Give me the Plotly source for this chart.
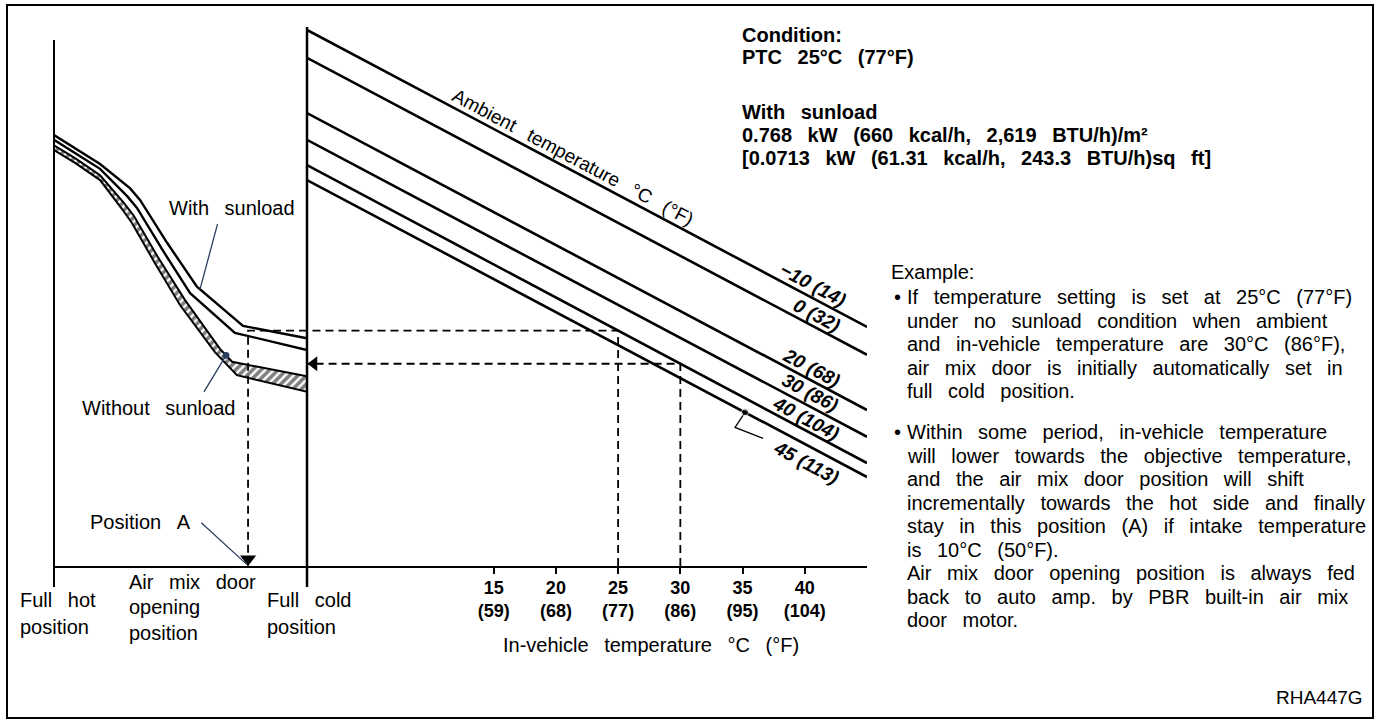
import math
import numpy as np
import plotly.graph_objects as go

W, H = 1377, 724
FONT = "Liberation Sans, Arial, Helvetica, sans-serif"

# ------------------------------------------------------------------ data
# Right panel: ambient-temperature lines (control level vs in-vehicle temperature)
ambient_temp_c = [-10, 0, 20, 30, 40, 45]
ambient_labels = ["−10 (14)", "0 (32)", "20 (68)", "30 (86)", "40 (104)", "45 (113)"]
in_vehicle_span_c = [0, 45]
level_at_span_start = [100.0, 94.8, 84.5, 79.5, 74.8, 72.0]
level_at_span_end = [44.6, 39.4, 29.1, 24.1, 19.2, 16.6]

in_vehicle_ticks_c = [15, 20, 25, 30, 35, 40]
in_vehicle_ticks_f = [59, 68, 77, 86, 95, 104]

# Left panel: air mix door opening (% from full hot) vs control level
door_pos_sun_upper = [0, 8.3, 18.2, 30.0, 34.0, 44.7, 56.5, 74.7, 100]
level_sun_upper = [80.4, 78.0, 75.0, 70.5, 68.3, 60.3, 52.1, 44.8, 42.5]
door_pos_sun_lower = [0, 8.3, 18.2, 28.9, 32.8, 42.7, 53.8, 71.5, 100]
level_sun_lower = [79.5, 77.1, 74.1, 69.0, 66.8, 59.1, 50.9, 43.5, 40.3]
door_pos_nosun_upper = [0, 8.3, 18.2, 27.7, 31.6, 41.1, 51.8, 65.6, 70.4, 100]
level_nosun_upper = [78.5, 76.1, 72.9, 67.7, 65.3, 57.6, 49.6, 40.5, 38.1, 35.4]
door_pos_nosun_lower = [0, 8.3, 18.2, 26.9, 30.8, 39.9, 49.8, 63.6, 72.3, 100]
level_nosun_lower = [77.6, 75.2, 72.0, 66.6, 64.0, 56.5, 48.7, 39.9, 35.6, 32.5]

# Worked example
example_ambient_c = 40
example_in_vehicle_c = [25, 30]
position_a_pct = 76.7
sun_leader_pct = 57.7
nosun_leader_pct = 68.0
label_45_leader_c = 35.2

# ------------------------------------------------------------------ geometry
X_HOT, X_COLD, X_RIGHT = 54, 307, 867
Y_BASE, Y_TOP = 566, 30
PX_PER_LEVEL = (Y_BASE - Y_TOP) / 100.0
LEVEL_MAX = Y_BASE / PX_PER_LEVEL
PX_PER_C = (X_RIGHT - X_COLD) / 45.0


def PX(x):
    return x / W


def PY(y):
    return 1 - y / H


def wide(s):
    return s.replace(" ", " \u2002")


def font(size=20, bold=False, italic=False):
    return dict(family=FONT, size=size, color="black",
                weight="bold" if bold else "normal",
                style="italic" if italic else "normal")


def amb_level(i, t):
    return float(np.interp(t, in_vehicle_span_c, [level_at_span_start[i], level_at_span_end[i]]))


fig = go.Figure()

# ambient lines
for i in range(len(ambient_temp_c)):
    fig.add_trace(go.Scatter(x=in_vehicle_span_c, y=[level_at_span_start[i], level_at_span_end[i]],
                             xaxis="x2", yaxis="y", mode="lines",
                             line=dict(color="black", width=2.6), hoverinfo="skip"))

# without sunload hatched band
fig.add_trace(go.Scatter(
    x=door_pos_nosun_upper + door_pos_nosun_lower[::-1],
    y=level_nosun_upper + level_nosun_lower[::-1],
    xaxis="x", yaxis="y", mode="lines", fill="toself", fillcolor="white",
    fillpattern=dict(shape="/", fgcolor="black", bgcolor="white", size=6, solidity=0.6),
    line=dict(color="black", width=2), hoverinfo="skip"))

# with sunload band
for xs, ys in [(door_pos_sun_upper, level_sun_upper), (door_pos_sun_lower, level_sun_lower)]:
    fig.add_trace(go.Scatter(x=xs, y=ys, xaxis="x", yaxis="y", mode="lines",
                             line=dict(color="black", width=2.4), hoverinfo="skip"))

# dashed example guides
i_ex = ambient_temp_c.index(example_ambient_c)
lvl_hi = amb_level(i_ex, example_in_vehicle_c[0])
lvl_lo = amb_level(i_ex, example_in_vehicle_c[1])
dash = dict(color="black", width=1.8, dash="8px,5px")
fig.add_trace(go.Scatter(x=[example_in_vehicle_c[0], example_in_vehicle_c[0], 0],
                         y=[0, lvl_hi, lvl_hi], xaxis="x2", yaxis="y", mode="lines",
                         line=dash, hoverinfo="skip"))
fig.add_trace(go.Scatter(x=[example_in_vehicle_c[1], example_in_vehicle_c[1], 0],
                         y=[0, lvl_lo, lvl_lo], xaxis="x2", yaxis="y", mode="lines",
                         line=dash, hoverinfo="skip"))
fig.add_trace(go.Scatter(x=[100, position_a_pct, position_a_pct], y=[lvl_hi, lvl_hi, 0],
                         xaxis="x", yaxis="y", mode="lines", line=dash, hoverinfo="skip"))
# arrow heads
fig.add_trace(go.Scatter(x=[7 / PX_PER_C], y=[lvl_lo], xaxis="x2", yaxis="y", mode="markers",
                         marker=dict(symbol="triangle-left", size=13, color="black"),
                         cliponaxis=False, hoverinfo="skip"))
fig.add_trace(go.Scatter(x=[position_a_pct], y=[7 / PX_PER_LEVEL], xaxis="x", yaxis="y",
                         mode="markers", marker=dict(symbol="triangle-down", size=14, color="black"),
                         cliponaxis=False, hoverinfo="skip"))

# leader for the 45 (113) label
i45 = ambient_temp_c.index(45)
y45 = amb_level(i45, label_45_leader_c)
fig.add_trace(go.Scatter(
    x=[label_45_leader_c, label_45_leader_c - 10 / PX_PER_C, label_45_leader_c + 18 / PX_PER_C],
    y=[y45, y45 - 15 / PX_PER_LEVEL, y45 - 26 / PX_PER_LEVEL],
    xaxis="x2", yaxis="y", mode="lines+markers",
    line=dict(color="black", width=1.3),
    marker=dict(size=[7, 0, 0], color="black"), cliponaxis=False, hoverinfo="skip"))

annotations = []

# ambient line labels
label_x_c = [40.6, 41.0, 40.5, 40.4, 40.1, 40.1]
label_shift = [13, 13, 13, 14, 12, -18]
for i, lab in enumerate(ambient_labels):
    slope_px = (level_at_span_start[i] - level_at_span_end[i]) * PX_PER_LEVEL / (45 * PX_PER_C)
    ang = math.degrees(math.atan(slope_px))
    annotations.append(dict(x=label_x_c[i], y=amb_level(i, label_x_c[i]), xref="x2", yref="y",
                            text=lab, showarrow=False, textangle=ang, yshift=label_shift[i],
                            xanchor="center", yanchor="middle", font=font(19, True, True)))
slope0 = (level_at_span_start[0] - level_at_span_end[0]) * PX_PER_LEVEL / (45 * PX_PER_C)
ang0 = math.degrees(math.atan(slope0))
annotations.append(dict(x=21.0, y=amb_level(0, 21.0), xref="x2", yref="y",
                        text=wide("Ambient temperature °C (°F)"), showarrow=False,
                        textangle=ang0, xshift=5, yshift=11, xanchor="center",
                        yanchor="middle", font=font(19)))

# leaders (left panel)
y_sun = float(np.interp(sun_leader_pct, door_pos_sun_upper, level_sun_upper))
annotations.append(dict(x=sun_leader_pct, y=y_sun, xref="x", yref="y", text="",
                        showarrow=True, arrowhead=0, arrowwidth=1.3, ax=18, ay=-67))
y_nosun = float(np.interp(nosun_leader_pct, door_pos_nosun_upper, level_nosun_upper))
annotations.append(dict(x=nosun_leader_pct, y=y_nosun, xref="x", yref="y", text="",
                        showarrow=True, arrowhead=6, arrowsize=1.3, arrowwidth=1.3,
                        ax=-23, ay=38))
annotations.append(dict(x=position_a_pct - 0.5, y=0.3, xref="x", yref="y", text="",
                        showarrow=True, arrowhead=0, arrowwidth=1.3, ax=-47, ay=-43))


def txt(x, y, s, size=20, bold=False, italic=False, anchor="left"):
    annotations.append(dict(x=PX(x), y=PY(y), xref="paper", yref="paper", text=s,
                            showarrow=False, xanchor=anchor, yanchor="middle",
                            font=font(size, bold, italic)))


txt(232, 208, wide("With sunload"), anchor="center")
txt(158, 408, wide("Without sunload"), anchor="center")
txt(140, 522, wide("Position A"), anchor="center")

txt(18, 600, wide("Full hot"))
txt(18, 627, "position")
txt(127, 582, wide("Air mix door"))
txt(127, 607, "opening")
txt(127, 633, "position")
txt(265, 600, wide("Full cold"))
txt(265, 627, "position")
txt(651, 645, wide("In-vehicle temperature °C (°F)"), anchor="center")

cond = [("Condition:", 35), ("PTC 25°C (77°F)", 57), ("With sunload", 112),
        ("0.768 kW (660 kcal/h, 2,619 BTU/h)/m²", 135),
        ("[0.0713 kW (61.31 kcal/h, 243.3 BTU/h)sq ft]", 158)]
for s, y in cond:
    txt(740, y, wide(s), bold=True)

txt(889, 272, "Example:")
para = [
    ("If temperature setting is set at 25°C (77°F)", 297, True),
    ("under no sunload condition when ambient", 320.5, False),
    ("and in-vehicle temperature are 30°C (86°F),", 344, False),
    ("air mix door is initially automatically set in", 367.5, False),
    ("full cold position.", 391, False),
    ("Within some period, in-vehicle temperature", 432, True),
    ("will lower towards the objective temperature,", 455.5, False),
    ("and the air mix door position will shift", 479, False),
    ("incrementally towards the hot side and finally", 502.5, False),
    ("stay in this position (A) if intake temperature", 526, False),
    ("is 10°C (50°F).", 549.5, False),
    ("Air mix door opening position is always fed", 573, False),
    ("back to auto amp. by PBR built-in air mix", 596.5, False),
    ("door motor.", 620, False),
]
for s, y, bullet in para:
    if bullet:
        txt(892, y, "•")
    txt(905, y, wide(s))
txt(1365, 697, "RHA447G", size=19, anchor="right")

shapes = [
    dict(type="rect", xref="paper", yref="paper", x0=PX(7), x1=PX(1373), y0=PY(718), y1=PY(5),
         line=dict(color="black", width=2)),
    dict(type="line", xref="paper", yref="paper", x0=PX(X_HOT), x1=PX(X_HOT), y0=PY(587), y1=PY(40),
         line=dict(color="black", width=2)),
    dict(type="line", xref="paper", yref="paper", x0=PX(X_COLD), x1=PX(X_COLD), y0=PY(587), y1=PY(27),
         line=dict(color="black", width=2.5)),
]

fig.update_layout(
    width=W, height=H, autosize=False,
    margin=dict(l=0, r=0, t=0, b=0, pad=0),
    paper_bgcolor="white", plot_bgcolor="rgba(0,0,0,0)",
    showlegend=False,
    xaxis=dict(domain=[PX(X_HOT), PX(X_COLD)], range=[0, 100], anchor="y",
               showline=True, linecolor="black", linewidth=2, ticks="",
               showticklabels=False, showgrid=False, zeroline=False, fixedrange=True),
    xaxis2=dict(domain=[PX(X_COLD), PX(X_RIGHT)], range=in_vehicle_span_c, anchor="y",
                showline=True, linecolor="black", linewidth=2, ticks="outside",
                ticklen=6, tickwidth=2, tickcolor="black",
                tickvals=in_vehicle_ticks_c,
                ticktext=[f"{c}<br>({f})" for c, f in zip(in_vehicle_ticks_c, in_vehicle_ticks_f)],
                tickfont=font(18, True), ticklabelstandoff=-2,
                showgrid=False, zeroline=False, fixedrange=True),
    yaxis=dict(domain=[PY(Y_BASE), 1], range=[0, LEVEL_MAX], visible=False, fixedrange=True),
    annotations=annotations,
    shapes=shapes,
)

fig.write_html("out.html", include_plotlyjs=True, full_html=True,
               config={"displayModeBar": False, "staticPlot": True},
               post_script="document.body.style.margin='0px';document.body.style.overflow='hidden';")
